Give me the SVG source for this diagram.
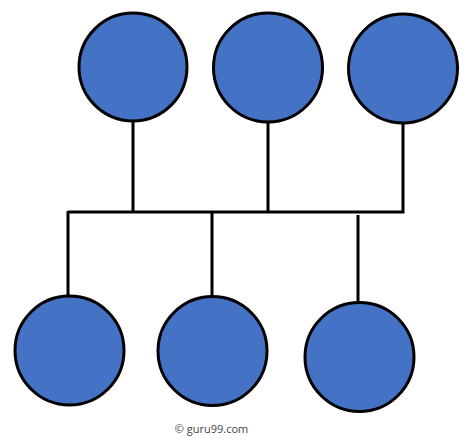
<svg xmlns="http://www.w3.org/2000/svg" width="474" height="442" viewBox="0 0 474 442">
<style>
.node{fill:#4472C4;stroke:#000;stroke-width:3}
.wire{stroke:#000;stroke-width:3;fill:none}
.credit{font-family:"Open Sans","Liberation Sans",sans-serif;font-size:11px;fill:#444}
</style>
<rect width="474" height="442" fill="#fff"/>
<g id="connectors">
<path class="wire" d="M133 121V211M268 122V211M403 123V212H68M68 211V296M212 211V297M358 215V303"/>
</g>
<g id="top1"><circle class="node" cx="133" cy="67" r="54"/></g>
<g id="top2"><circle class="node" cx="268" cy="67.5" r="54.5"/></g>
<g id="top3"><circle class="node" cx="403" cy="68.5" r="54.5"/></g>
<g id="bottom1"><circle class="node" cx="69.5" cy="350.5" r="54.5"/></g>
<g id="bottom2"><circle class="node" cx="212.5" cy="351" r="54.5"/></g>
<g id="bottom3"><circle class="node" cx="359.5" cy="357" r="54.5"/></g>
<text class="credit" x="211.5" y="433" text-anchor="middle">© guru99.com</text>
</svg>
